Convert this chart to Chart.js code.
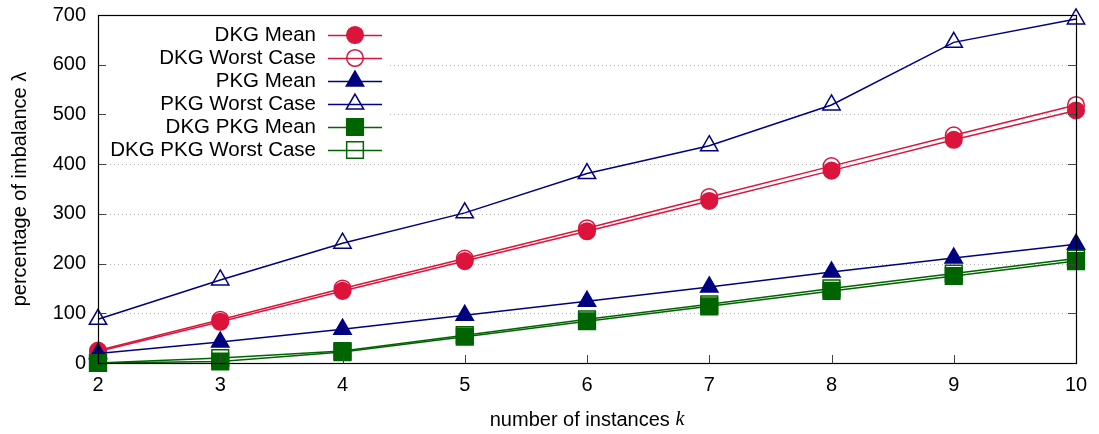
<!DOCTYPE html>
<html>
<head>
<meta charset="utf-8">
<script src="https://cdn.jsdelivr.net/npm/chart.js@4/dist/chart.umd.min.js"></script>
<style>
  html, body { margin: 0; padding: 0; background: #ffffff; }
  #wrap { width: 1099px; height: 434px; }
</style>
</head>
<body>
<div id="wrap"><canvas id="c" width="1099" height="434"></canvas></div>
<script>
// Number of instances k on the x axis
const instances = [2, 3, 4, 5, 6, 7, 8, 9, 10];

// Percentage of imbalance per scheme
const dkgMean       = [23, 83, 145, 205, 265, 326, 387, 449, 508];
const dkgWorst      = [25, 87, 150, 210, 271, 334, 396, 458, 519];
const pkgMean       = [19, 42, 68, 96, 124, 153, 183, 211, 239];
const pkgWorst      = [88, 167, 241, 302, 381, 437, 519, 645, 692];
const dkgPkgMean    = [0, 3, 22, 53, 84, 114, 145, 175, 205];
const dkgPkgWorst   = [0, 10, 24, 56, 88, 118, 150, 180, 210];

const yTickValues = [0, 100, 200, 300, 400, 500, 600, 700];
const xTickValues = instances;

const seriesLabels = ['DKG Mean', 'DKG Worst Case', 'PKG Mean', 'PKG Worst Case', 'DKG PKG Mean', 'DKG PKG Worst Case'];

const RED = '#dc143c';
const BLUE = '#000080';
const GREEN = '#006400';
const FONT = '"Liberation Sans", Arial, sans-serif';

function series(label, values, color, style, filled, radius, idx) {
  return {
    label: label,
    data: instances.map((k, i) => ({ x: k, y: values[i] })),
    borderColor: color,
    backgroundColor: filled ? color : 'rgba(0,0,0,0)',
    borderWidth: 1.5,
    pointStyle: style,
    pointRadius: radius,
    pointHoverRadius: radius,
    pointBorderWidth: 1.5,
    pointBorderColor: color,
    pointBackgroundColor: filled ? color : 'rgba(0,0,0,0)',
    tension: 0,
    fill: false,
    clip: false,
    order: 10 - idx
  };
}

const datasets = [
  series(seriesLabels[0], dkgMean, RED, 'circle', true, 8.3, 0),
  series(seriesLabels[1], dkgWorst, RED, 'circle', false, 8.3, 1),
  series(seriesLabels[2], pkgMean, BLUE, 'triangle', true, 10, 2),
  series(seriesLabels[3], pkgWorst, BLUE, 'triangle', false, 10, 3),
  series(seriesLabels[4], dkgPkgMean, GREEN, 'rect', true, 11.8, 4),
  series(seriesLabels[5], dkgPkgWorst, GREEN, 'rect', false, 11.8, 5)
];

function drawMarker(ctx, ds, x, y) {
  ctx.save();
  ctx.fillStyle = ds.pointBackgroundColor;
  ctx.strokeStyle = ds.pointBorderColor;
  ctx.lineWidth = ds.pointBorderWidth;
  Chart.helpers.drawPoint(ctx, {
    pointStyle: ds.pointStyle,
    rotation: 0,
    radius: ds.pointRadius,
    borderWidth: ds.pointBorderWidth
  }, x, y);
  ctx.restore();
}

const framePlugin = {
  id: 'frame',
  beforeDatasetsDraw(chart) {
    const ctx = chart.ctx;
    const a = chart.chartArea;
    const ys = chart.scales.y;
    ctx.save();
    // dotted horizontal grid
    ctx.strokeStyle = '#b4b4b4';
    ctx.lineWidth = 1;
    ctx.setLineDash([1, 3]);
    yTickValues.forEach(v => {
      if (v === yTickValues[0] || v === yTickValues[yTickValues.length - 1]) return;
      const py = Math.round(ys.getPixelForValue(v)) + 0.5;
      ctx.beginPath();
      ctx.moveTo(a.left, py);
      ctx.lineTo(a.right, py);
      ctx.stroke();
    });
    ctx.setLineDash([]);
    // key background
    ctx.fillStyle = '#ffffff';
    ctx.fillRect(a.left + 1, 22, 290, 140);
    ctx.restore();
  },
  afterDatasetsDraw(chart) {
    const ctx = chart.ctx;
    const a = chart.chartArea;
    const xs = chart.scales.x;
    const ys = chart.scales.y;
    ctx.save();
    // inward tick marks
    ctx.strokeStyle = '#444444';
    ctx.lineWidth = 1;
    yTickValues.forEach(v => {
      const py = Math.round(ys.getPixelForValue(v)) + 0.5;
      ctx.beginPath();
      ctx.moveTo(a.left, py); ctx.lineTo(a.left + 8, py);
      ctx.moveTo(a.right, py); ctx.lineTo(a.right - 8, py);
      ctx.stroke();
    });
    xTickValues.forEach(v => {
      const px = Math.round(xs.getPixelForValue(v)) + 0.5;
      ctx.beginPath();
      ctx.moveTo(px, a.bottom); ctx.lineTo(px, a.bottom - 8);
      ctx.stroke();
    });
    // plot border
    ctx.strokeStyle = '#000000';
    ctx.lineWidth = 1.2;
    ctx.strokeRect(Math.round(a.left) + 0.5, Math.round(a.top) + 0.5,
                   Math.round(a.right - a.left), Math.round(a.bottom - a.top));

    // key
    ctx.font = '20.5px ' + FONT;
    ctx.textAlign = 'right';
    ctx.textBaseline = 'middle';
    chart.data.datasets.forEach((ds, i) => {
      const ry = 35 + i * 23;
      ctx.fillStyle = '#000000';
      ctx.fillText(ds.label, 316, ry);
      ctx.strokeStyle = ds.borderColor;
      ctx.lineWidth = ds.borderWidth;
      ctx.beginPath();
      ctx.moveTo(328, ry + 0.5); ctx.lineTo(382, ry + 0.5);
      ctx.stroke();
      drawMarker(ctx, ds, 355, ry);
    });

    // axis titles
    ctx.fillStyle = '#000000';
    ctx.textBaseline = 'middle';
    const main = 'number of instances ';
    ctx.font = '20px ' + FONT;
    const w1 = ctx.measureText(main).width;
    ctx.font = 'italic 20px "Liberation Serif", "Times New Roman", serif';
    const w2 = ctx.measureText('k').width;
    const cx = (a.left + a.right) / 2;
    const x0 = cx - (w1 + w2) / 2;
    ctx.textAlign = 'left';
    ctx.font = '20px ' + FONT;
    ctx.fillText(main, x0, 420);
    ctx.font = 'italic 20px "Liberation Serif", "Times New Roman", serif';
    ctx.fillText('k', x0 + w1, 420);

    ctx.translate(20, (a.top + a.bottom) / 2);
    ctx.rotate(-Math.PI / 2);
    ctx.textAlign = 'center';
    ctx.font = '20px ' + FONT;
    ctx.fillText('percentage of imbalance λ', 0, 0);
    ctx.restore();
  }
};

new Chart(document.getElementById('c'), {
  type: 'line',
  data: { datasets: datasets },
  options: {
    responsive: false,
    animation: false,
    devicePixelRatio: 1,
    layout: { padding: { left: 0, top: 15, right: 23, bottom: 0 } },
    plugins: { legend: { display: false }, tooltip: { enabled: false } },
    scales: {
      x: {
        type: 'linear',
        min: xTickValues[0],
        max: xTickValues[xTickValues.length - 1],
        afterBuildTicks(scale) { scale.ticks = xTickValues.map(v => ({ value: v })); },
        ticks: { color: '#000', font: { family: FONT, size: 20 }, padding: 10, maxRotation: 0 },
        grid: { display: false, drawTicks: false },
        border: { display: false },
        afterFit(scale) { scale.height = 71; }
      },
      y: {
        type: 'linear',
        min: yTickValues[0],
        max: yTickValues[yTickValues.length - 1],
        afterBuildTicks(scale) { scale.ticks = yTickValues.map(v => ({ value: v })); },
        ticks: { color: '#000', font: { family: FONT, size: 20, lineHeight: 0.6 }, padding: 12 },
        grid: { display: false, drawTicks: false },
        border: { display: false },
        afterFit(scale) { scale.width = 98; scale.paddingTop = 0; scale.paddingBottom = 0; }
      }
    }
  },
  plugins: [framePlugin]
});
</script>
</body>
</html>
